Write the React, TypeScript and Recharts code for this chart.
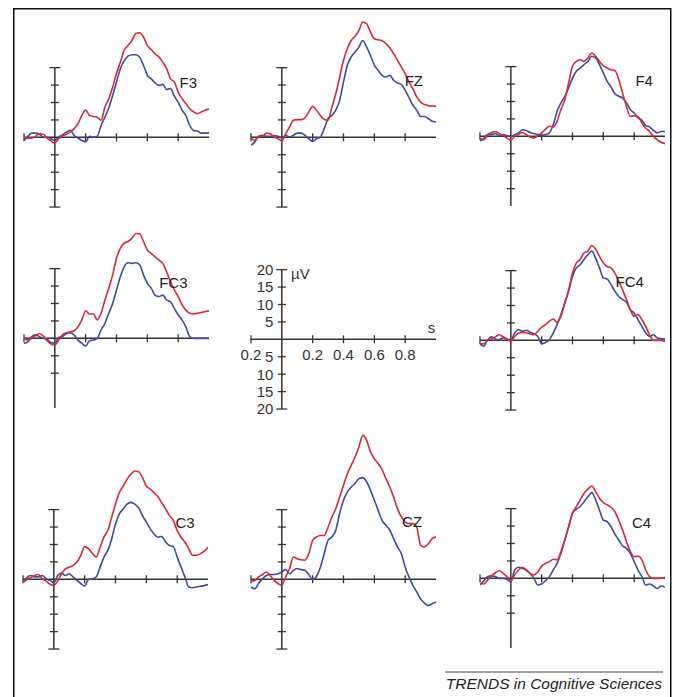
import React from 'react';
import { LineChart, Line, XAxis, YAxis, ReferenceLine, ReferenceDot } from 'recharts';

// time axis (s), shared by every electrode
const times = [
  -0.2, -0.175, -0.15, -0.125, -0.1, -0.075, -0.05, -0.025, 0,
  0.025, 0.05, 0.075, 0.1, 0.125, 0.15, 0.175, 0.2,
  0.225, 0.25, 0.275, 0.3, 0.325, 0.35, 0.375, 0.4,
  0.425, 0.45, 0.475, 0.5, 0.525, 0.55, 0.575, 0.6,
  0.625, 0.65, 0.675, 0.7, 0.725, 0.75, 0.775, 0.8,
  0.825, 0.85, 0.875, 0.9, 0.925, 0.95, 0.975, 1.0,
];

// amplitudes in µV (red / blue condition)
const f3Red = [0, -0.3, -0.2, 0.3, 1, 0.9, -0.2, -1, -1.6, -0.4, 0.4, 0.9, 1.5, 2.5, 3.9, 6.3, 7.8, 6.3, 6, 5.8, 4.9, 8.7, 11.1, 14.4, 18.3, 21.6, 25, 26.4, 27.8, 29.8, 30, 28.8, 26.4, 25.2, 24, 23.1, 21.6, 19.7, 16.8, 15.9, 13, 11.1, 9.7, 8.2, 7.3, 6.8, 7.3, 7.8, 8.1];
const f3Blue = [-0.9, 0.3, 1.2, 1.2, 0.9, 0.1, 0, -0.4, -0.9, 0.1, 0.7, 1.5, 2, 0.6, -0.2, -0.9, -1.3, 0.3, 0.1, 0.3, 3.4, 5.8, 8.5, 12, 15.9, 19.7, 22, 23.3, 23.7, 23.7, 23, 20.7, 17.8, 16.8, 15.6, 14.9, 15.2, 13.7, 14, 11.8, 10.1, 7.8, 6.3, 3.4, 2, 1.8, 1.2, 1.2, 1.2];
const fzRed = [-0.2, -0.9, 0.3, 0.3, 1.2, 1, 0.1, -0.4, -1, 1, 3, 4.9, 5.1, 5.1, 5.6, 7.3, 8.9, 7.8, 6.3, 5.1, 4.9, 8.7, 12.5, 17.3, 22.1, 25.5, 27.8, 29, 30.7, 33.1, 32.6, 30.2, 28.3, 28, 27.7, 26.9, 25.7, 24, 22.1, 20.2, 18.3, 15.9, 14, 11.6, 10.1, 9.4, 9.1, 9, 8.9];
const fzBlue = [-2.3, -1.3, 0.3, 0.6, 0.3, 0.3, 0.5, 0.3, -0.1, 0.6, 0.1, 0.6, 1.2, 1.2, 0.6, -0.4, -1.1, -0.4, 0.1, 2.5, 5.4, 6.3, 7.8, 10.6, 15.9, 20.7, 23.1, 24.5, 25.9, 27.8, 25.9, 23.5, 20.7, 19.2, 17.8, 17.3, 17.8, 16.4, 15.6, 15.2, 13.5, 11.4, 9.2, 7.8, 6, 6, 5.4, 4.6, 4.4];
const f4Red = [-0.5, -1, 0.5, 1.1, 1.4, 0.8, 0.2, -0.5, -1.1, 0, 0.5, 1.1, 0.5, -0.2, -0.5, 0.2, 1, 2.1, 2.9, 2.7, 4.3, 7.7, 10.5, 15.3, 20.1, 21.5, 22, 21.5, 22.5, 23.9, 23, 21.5, 20.3, 19.6, 19.1, 18.9, 16.3, 12.4, 8.6, 5.7, 5.9, 5.7, 3.8, 2.4, 1.4, 0, -1, -1.7, -2.1];
const f4Blue = [-1.4, -0.5, 0.5, 0.5, 0.8, 0.2, 0.5, 0.2, 0, 0.5, 1, 1.9, 1.7, 1.1, 0.8, 0.5, 0.2, 0.5, 1, 3.3, 7.2, 9.6, 11.5, 13.9, 16.7, 18.7, 19.6, 20.6, 21.5, 23, 22.5, 20.6, 18.2, 15.8, 14.2, 12.2, 11.5, 11, 9.6, 7.7, 6.7, 5.3, 4.6, 3.1, 2.7, 1.7, 1, 1.4, 1.4];
const fc3Red = [0, -0.5, 0, 0.7, 1.4, 0.7, -0.7, -1.6, -1.9, -0.5, 1, 1.6, 1.9, 2.2, 3.3, 5.3, 7.9, 7, 7, 5.3, 7.2, 11, 14.4, 18.2, 23, 25.8, 27.3, 27.8, 28.7, 30.1, 30, 27.8, 25.4, 24.4, 23.4, 22.5, 21.5, 19.1, 16.3, 13.9, 12, 9.6, 8.1, 7.2, 7, 7.2, 7.4, 7.7, 7.9];
const fc3Blue = [-1.4, -1, 0.5, 1, 0.5, 0, -0.3, -1.2, -1.4, 0.3, 0.5, 1.4, 1.6, 1, -0.5, -1.4, -2.2, -0.7, -0.5, 0, 2.4, 4.3, 7.2, 10, 13.9, 17.7, 20.6, 21.7, 21.5, 21.7, 21.1, 18.2, 15.8, 14.4, 12.4, 12, 12.4, 11, 10.5, 8.6, 6.7, 5.3, 3.3, 0.5, 0, 0, 0, 0, 0];
const fc4Red = [-1, -1, 0, 0.4, 1, 1.6, 1, 0.4, -0.3, 1.1, 2.1, 2.3, 2.1, 1.9, 1.6, 2.6, 3.8, 4.5, 5.5, 6.1, 5.2, 6.9, 10.7, 14.5, 19.3, 22.2, 23.2, 25.1, 25.6, 27.2, 26.2, 24.1, 22.2, 21.2, 20.8, 19.3, 16.9, 14.5, 11.7, 8.8, 6.9, 7.4, 5.9, 4, 1.6, 0, 0, 0, -0.3];
const fc4Blue = [-1, -1.7, 0.2, 1, 0.4, 0.2, 0.7, 0.4, 0, 2.1, 3.1, 2.6, 2.9, 2.3, 1.9, 1.1, -1, -0.6, 0.2, 2.1, 4.5, 7.4, 10.7, 14.1, 18.4, 20.8, 21.7, 23.2, 24.6, 25.6, 23.6, 20.8, 17.9, 17.6, 16, 14.1, 12.6, 11.7, 10.9, 8.8, 7.8, 5.9, 4, 2.1, 1.1, 1.6, 0.7, 0.5, 0.4];
const c3Red = [-0.8, -0.1, 0.5, 1.1, 1.4, 0.2, -0.5, -1.4, -1.7, -0.5, 1.6, 3, 3.5, 4, 5, 6.9, 9.4, 8.8, 7.5, 6.4, 9.2, 12.1, 14, 17.8, 21.6, 24.9, 26.8, 28.7, 30.2, 31.1, 30.9, 29.2, 26.8, 25.9, 24.9, 23.7, 22, 20.2, 18.3, 16.9, 14, 12.1, 10.7, 8.8, 6.9, 6.9, 7.3, 8.1, 9.2];
const c3Blue = [-1, 0.5, 1.1, 0.7, 0.7, 1.1, 0.2, -0.3, -1, 1.1, 1.8, 1.1, 1.6, 0.7, -0.3, -1.2, -1.9, 0, 0.1, 0.7, 3.5, 6.4, 8.3, 11.6, 15.9, 18.8, 20.2, 21.6, 22.1, 21.6, 20.5, 18.3, 16.4, 14.5, 13, 12.1, 12.3, 10.7, 9.7, 9.4, 6.4, 3.5, 0.7, -2.2, -2.4, -2.2, -2, -1.8, -1.5];
const czRed = [-0.5, -0.3, 0.7, 1.4, 2.1, 1.1, -0.3, -1.2, -1.7, 0.7, 3.1, 6.4, 5.9, 5.6, 5.5, 7.4, 11.2, 12.2, 12.6, 12.6, 15, 17.9, 20.3, 23.6, 27, 30.3, 32.7, 35.1, 38, 41.3, 39.9, 36.6, 34.6, 33.2, 31.5, 28.9, 26.5, 23.6, 20.3, 17.9, 16.5, 16, 16, 15, 9.8, 9.3, 10.2, 11.7, 12.2];
const czBlue = [-2.2, -2.7, -1.1, 0.2, 1.1, 1.4, 1.4, 1.6, 2.1, 2.8, 1.6, 2.6, 3.1, 2.8, 2.6, 1.4, -0.1, 0.9, 3.5, 7.4, 11.2, 12.2, 14.1, 18.9, 22.7, 25.1, 26.5, 27.5, 28.9, 29.2, 28, 25.6, 22.7, 19.8, 16.9, 15.5, 14.1, 11.7, 9.3, 7.4, 3.5, 0.7, -1.7, -3.6, -5.6, -6.8, -7.5, -7, -6.5];
const c4Red = [-1.4, -1.6, -0.5, 0.7, 1.6, 2.2, 1.4, 0.5, -0.7, 1, 2.4, 3.2, 2.4, 1.4, 1, 1.9, 3.5, 4.3, 4.8, 5.5, 5.3, 7.7, 11, 14.8, 18.7, 20.6, 22.5, 24.4, 25.6, 26.5, 24.9, 23, 21.7, 21.1, 20.4, 19.1, 16.7, 13.9, 10.5, 7.7, 6.2, 6.4, 5.3, 2.4, 0.5, 0, 0, 0, 0.3];
const c4Blue = [-1.9, -0.7, 0.5, 0.7, 0.5, 0, 0, -0.3, -1, 2.4, 3.2, 2.9, 2.4, 1.4, 0, -1.9, -1.6, -0.7, 0.5, 2.4, 4.3, 7.2, 11, 14.8, 18.7, 19.8, 20.6, 22, 23.4, 24.6, 22.5, 19.6, 16.7, 16.3, 14.8, 12.7, 11, 9.3, 8.6, 7.2, 4.8, 2.4, 0.5, -1.9, -1.6, -2.2, -2.9, -2.2, -2.6];

// scale bar ticks
const xTickValues = [-0.2, 0.2, 0.4, 0.6, 0.8];
const xTickLabels = ['0.2', '0.2', '0.4', '0.6', '0.8'];
const yTickValues = [20, 15, 10, 5, -5, -10, -15, -20];
const yTickLabels = ['20', '15', '10', '5', '5', '10', '15', '20'];

const RED = '#d42a3b';
const BLUE = '#3d4c9c';
const AXIS = '#333';
const FONT = '"Liberation Sans", Arial, Helvetica, sans-serif';

// plot geometry (px per second / per µV are fixed by the figure)
const X_DOMAIN: [number, number] = [-0.2, 1.0];
const Y_DOMAIN: [number, number] = [-24, 44];
const MARGIN = { top: 2, right: 10, bottom: 2, left: 10 };
const PLOT_W = 185;
const PLOT_H = 237;
const CHART_W = PLOT_W + MARGIN.left + MARGIN.right;
const CHART_H = PLOT_H + MARGIN.top + MARGIN.bottom;
const PX_S = PLOT_W / (X_DOMAIN[1] - X_DOMAIN[0]);
const PX_UV = PLOT_H / (Y_DOMAIN[1] - Y_DOMAIN[0]);
const X_TICK_HALF = 4 / PX_UV;
const Y_TICK_HALF = 4 / PX_S;
const CAP_HALF = 5.5 / PX_S;

type Panel = {
  name: string;
  red: number[];
  blue: number[];
  x0: number; // page position of the origin
  y0: number;
  lt: number; // label position in data units
  lv: number;
  neg: number[];
  cap: boolean;
};

const panels: Panel[] = [
  { name: 'F3', red: f3Red, blue: f3Blue, x0: 54.5, y0: 137, lt: 0.866, lv: 15.8, neg: [-5, -10, -15], cap: true },
  { name: 'FZ', red: fzRed, blue: fzBlue, x0: 282.3, y0: 137, lt: 0.856, lv: 16.2, neg: [-5, -10, -15], cap: true },
  { name: 'F4', red: f4Red, blue: f4Blue, x0: 510.7, y0: 136.7, lt: 0.865, lv: 16.1, neg: [-5, -10, -15], cap: false },
  { name: 'FC3', red: fc3Red, blue: fc3Blue, x0: 55, y0: 338.5, lt: 0.769, lv: 16.0, neg: [-5, -10], cap: false },
  { name: 'FC4', red: fc4Red, blue: fc4Blue, x0: 510.7, y0: 340.5, lt: 0.771, lv: 16.7, neg: [-5, -10, -15], cap: true },
  { name: 'C3', red: c3Red, blue: c3Blue, x0: 54.3, y0: 579, lt: 0.851, lv: 16.4, neg: [-5, -10, -15], cap: true },
  { name: 'CZ', red: czRed, blue: czBlue, x0: 282.3, y0: 579, lt: 0.845, lv: 16.5, neg: [-5, -10, -15], cap: true },
  { name: 'C4', red: c4Red, blue: c4Blue, x0: 510.7, y0: 578.5, lt: 0.848, lv: 16.0, neg: [-5, -10], cap: false },
];

const legendPos = { x0: 281.5, y0: 339 };

const chartBox = (x0: number, y0: number): React.CSSProperties => ({
  position: 'absolute',
  left: x0 - MARGIN.left - (0 - X_DOMAIN[0]) * PX_S,
  top: y0 - MARGIN.top - Y_DOMAIN[1] * PX_UV,
});

const labelStyle = { fill: AXIS, fontSize: 15, fontFamily: FONT };

// cross-shaped axes with tick marks, drawn through the chart's scales
function axisLines(neg: number[], cap: boolean, withLabels: boolean) {
  const els: React.ReactNode[] = [];
  els.push(<ReferenceLine key="h" y={0} stroke={AXIS} strokeWidth={1.5} />);
  els.push(
    <ReferenceLine key="v" segment={[{ x: 0, y: -20 }, { x: 0, y: 20 }]} stroke={AXIS} strokeWidth={1.5} />
  );
  xTickValues.forEach((t, i) => {
    els.push(
      <ReferenceLine
        key={'xt' + i}
        segment={[{ x: t, y: -X_TICK_HALF }, { x: t, y: X_TICK_HALF }]}
        stroke={AXIS}
        strokeWidth={1.3}
        label={withLabels ? { value: xTickLabels[i], position: 'bottom', offset: 6, ...labelStyle } : undefined}
      />
    );
  });
  yTickValues.forEach((v, i) => {
    const isCap = Math.abs(v) === 20;
    if (v < 0 && !isCap && !neg.includes(v)) return;
    if (v === -20 && !cap) return;
    const half = isCap ? CAP_HALF : Y_TICK_HALF;
    els.push(
      <ReferenceLine
        key={'yt' + i}
        segment={[{ x: -half, y: v }, { x: half, y: v }]}
        stroke={AXIS}
        strokeWidth={1.3}
        label={withLabels ? { value: yTickLabels[i], position: 'left', offset: isCap ? 3 : 4.5, ...labelStyle } : undefined}
      />
    );
  });
  return els;
}

function ErpPanel({ p }: { p: Panel }) {
  const rows = times.map((t, i) => ({ t, red: p.red[i], blue: p.blue[i] }));
  return (
    <div style={chartBox(p.x0, p.y0)}>
      <LineChart width={CHART_W} height={CHART_H} data={rows} margin={MARGIN}>
        <XAxis dataKey="t" type="number" domain={X_DOMAIN} hide allowDataOverflow />
        <YAxis type="number" domain={Y_DOMAIN} hide allowDataOverflow />
        {axisLines(p.neg, p.cap, false)}
        <Line type="monotone" dataKey="blue" stroke={BLUE} strokeWidth={1.6} dot={false} isAnimationActive={false} />
        <Line type="monotone" dataKey="red" stroke={RED} strokeWidth={1.6} dot={false} isAnimationActive={false} />
        <ReferenceDot
          x={p.lt}
          y={p.lv}
          r={1}
          fill="none"
          stroke="none"
          label={{ value: p.name, position: 'center', fill: '#222', fontSize: 15, fontFamily: FONT }}
        />
      </LineChart>
    </div>
  );
}

function ScaleLegend() {
  const rows = times.map((t) => ({ t }));
  return (
    <div style={chartBox(legendPos.x0, legendPos.y0)}>
      <LineChart width={CHART_W} height={CHART_H} data={rows} margin={MARGIN}>
        <XAxis dataKey="t" type="number" domain={X_DOMAIN} hide allowDataOverflow />
        <YAxis type="number" domain={Y_DOMAIN} hide allowDataOverflow />
        {axisLines([-5, -10, -15], true, true)}
        <ReferenceDot x={0.12} y={18.9} r={1} fill="none" stroke="none" label={{ value: 'µV', position: 'center', ...labelStyle }} />
        <ReferenceDot x={0.97} y={3.3} r={1} fill="none" stroke="none" label={{ value: 's', position: 'center', ...labelStyle }} />
      </LineChart>
    </div>
  );
}

export default function App() {
  return (
    <div
      style={{
        position: 'absolute',
        left: 0,
        top: 0,
        width: 676,
        height: 697,
        overflow: 'hidden',
        background: '#fff',
        fontFamily: FONT,
      }}
    >
      <svg width={676} height={697} style={{ position: 'absolute', left: 0, top: 0 }}>
        <rect x={13.75} y={8.75} width={657} height={720} fill="none" stroke="#111" strokeWidth={1.5} />
        <line x1={445} y1={672} x2={663} y2={672} stroke="#444" strokeWidth={1} />
        <text x={662} y={689} textAnchor="end" fontStyle="italic" fontSize={15.5} fill="#222" fontFamily={FONT}>
          TRENDS in Cognitive Sciences
        </text>
      </svg>
      {panels.map((p) => (
        <ErpPanel key={p.name} p={p} />
      ))}
      <ScaleLegend />
    </div>
  );
}
